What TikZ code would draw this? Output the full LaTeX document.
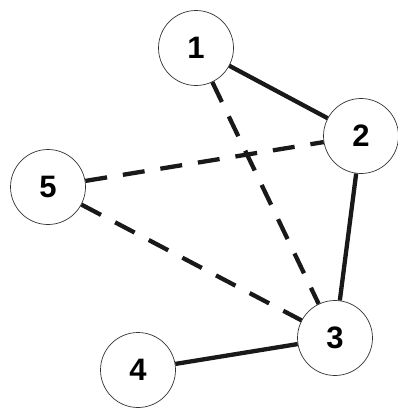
\documentclass[tikz,border=0pt]{standalone}
\usepackage{fontspec}
\setmainfont{Liberation Sans}
\begin{document}
\begin{tikzpicture}[x=1pt,y=1pt,
  vertex/.style={circle,draw=black!80,line width=0.7pt,fill=white,minimum size=75pt,inner sep=0pt,font=\fontsize{31}{31}\selectfont\bfseries},
  solidedge/.style={line width=4.3pt,black!90},
  dashedge/.style={line width=4.3pt,black!90,dash pattern=on 22pt off 16pt}]
\useasboundingbox (0,0) rectangle (397,-410);
\node[vertex] (n1) at (196,-48) {1};
\node[vertex] (n2) at (361,-136) {2};
\node[vertex] (n5) at (48,-187) {5};
\node[vertex] (n3) at (335,-338) {3};
\node[vertex] (n4) at (138,-370) {4};
\draw[solidedge] (n1) -- (n2);
\draw[solidedge] (n2) -- (n3);
\draw[solidedge] (n3) -- (n4);
\draw[dashedge] (n1) -- (n3);
\draw[dashedge] (n5) -- (n2);
\draw[dashedge] (n5) -- (n3);
\end{tikzpicture}
\end{document}
